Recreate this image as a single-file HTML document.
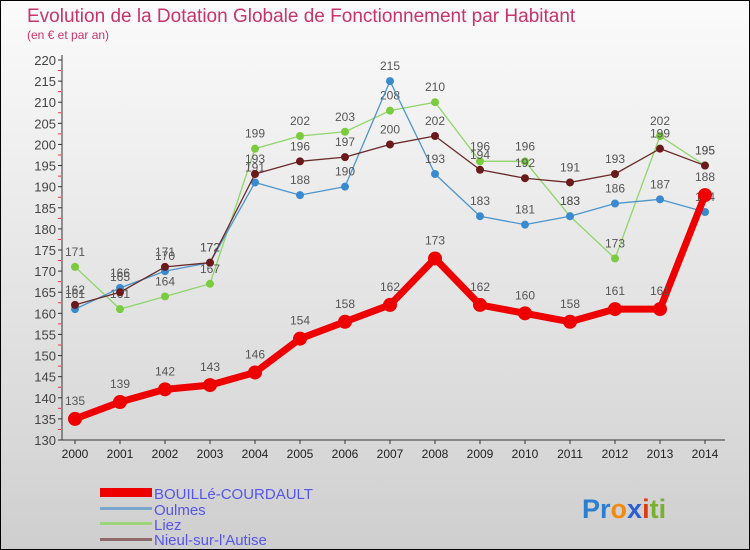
<!DOCTYPE html>
<html><head><meta charset="utf-8"><style>
body{margin:0;}
#wrap{width:750px;height:550px;position:relative;overflow:hidden;font-family:"Liberation Sans",sans-serif;}
</style></head><body>
<div id="wrap">
<svg id="chart" width="750" height="550" xmlns="http://www.w3.org/2000/svg">
<defs>
<linearGradient id="bg" x1="0" y1="0" x2="0" y2="1"><stop offset="0" stop-color="#fbfbfb"/><stop offset="0.85" stop-color="#d6d6d6"/><stop offset="1" stop-color="#cecece"/></linearGradient>
</defs>
<rect x="0" y="0" width="750" height="550" fill="url(#bg)"/>
<rect x="0.5" y="0.5" width="749" height="549" fill="none" stroke="#000"/>
<text x="27" y="22" font-size="19" fill="#c8336a">Evolution de la Dotation Globale de Fonctionnement par Habitant</text>
<text x="27" y="39" font-size="12" fill="#c8336a">(en € et par an)</text>
<g id="axes"></g>
<g id="series"></g>
<g id="legend">
<rect x="100" y="488" width="52" height="9" fill="#ee0000"/>
<text x="154" y="499" font-size="15" fill="#5555ee">BOUILLé-COURDAULT</text>
<rect x="100" y="507" width="52" height="3" fill="#78a6cc"/>
<text x="154" y="515" font-size="15" fill="#5555ee">Oulmes</text>
<rect x="100" y="522" width="52" height="3" fill="#9ed47a"/>
<text x="154" y="530" font-size="15" fill="#5555ee">Liez</text>
<rect x="100" y="538" width="52" height="3" fill="#8f6a6a"/>
<text x="154" y="545" font-size="15" fill="#5555ee">Nieul-sur-l'Autise</text>
</g>
<text x="582" y="518" font-size="27" font-weight="bold"><tspan fill="#2a7fd0">Pr</tspan><tspan fill="#f08a10">o</tspan><tspan fill="#2a5fd0">x</tspan><tspan fill="#e03a10">i</tspan><tspan fill="#7ab030">ti</tspan></text>
</svg>
</div>
<script>
const years = [2000,2001,2002,2003,2004,2005,2006,2007,2008,2009,2010,2011,2012,2013,2014];
const yTicks = [130,135,140,145,150,155,160,165,170,175,180,185,190,195,200,205,210,215,220];
const bouille = [135,139,142,143,146,154,158,162,173,162,160,158,161,161,188];
const oulmes = [161,166,170,172,191,188,190,215,193,183,181,183,186,187,184];
const liez = [171,161,164,167,199,202,203,208,210,196,196,183,173,202,195];
const nieul = [162,165,171,172,193,196,197,200,202,194,192,191,193,199,195];

const NS="http://www.w3.org/2000/svg";
const x0=75, xStep=45, yMin=130, yMax=220, yTop=60, yBot=440;
const xs=i=>x0+i*xStep;
const ys=v=>yBot-(v-yMin)/(yMax-yMin)*(yBot-yTop);
function mk(t,a,p){const e=document.createElementNS(NS,t);for(const k in a)e.setAttribute(k,a[k]);p.appendChild(e);return e;}
const ax=document.getElementById('axes');
const yl=mk('line',{x1:62,y1:yTop-5,x2:62,y2:yBot,stroke:'#333'},ax);


const xl=mk('line',{x1:62,y1:yBot,x2:725,y2:yBot,stroke:'#333'},ax);


yTicks.forEach(v=>{
  const y=ys(v);
  mk('line',{x1:58,y1:y,x2:62,y2:y,stroke:'#333'},ax);
  if(v<220) mk('line',{x1:58,y1:y-(yBot-yTop)/36,x2:61,y2:y-(yBot-yTop)/36,stroke:'#e33'},ax);
  const t=mk('text',{x:56,y:y+5,'font-size':13,fill:'#444','text-anchor':'end'},ax);
  t.textContent=v;
  
  
});
years.forEach((yr,i)=>{
  const x=xs(i);
  mk('line',{x1:x,y1:yBot,x2:x,y2:yBot+4,stroke:'#333'},ax);
  const t=mk('text',{x:x,y:yBot+18,'font-size':12,fill:'#222','text-anchor':'middle'},ax);
  t.textContent=yr;
  
  
});
const sg=document.getElementById('series');
function drawSeries(vals,color,w,r,name,ptColor){
  const g=mk('g',{},sg);
  
  
  const pl=mk('polyline',{points:vals.map((v,i)=>xs(i)+','+ys(v)).join(' '),fill:'none',stroke:color,'stroke-width':w,'stroke-linejoin':'round'},g);
  
  
  vals.forEach((v,i)=>{
    const c=mk('circle',{cx:xs(i),cy:ys(v),r:r,fill:ptColor},g);
    
    
    const t=mk('text',{x:xs(i),y:ys(v)-r-7,'font-size':12,fill:'#555','text-anchor':'middle'},g);
    t.textContent=v;
    
    
  });
}
drawSeries(liez,'#8fd56a',1.3,4,'liez','#7acb3e');
drawSeries(oulmes,'#4d95cc',1.3,4,'oulmes','#3a8ad0');
drawSeries(nieul,'#6a2a2a',1.3,4,'nieul','#6a1a1a');
drawSeries(bouille,'#ee0000',7,7,'bouille','#ee0000');
</script>
</body></html>
